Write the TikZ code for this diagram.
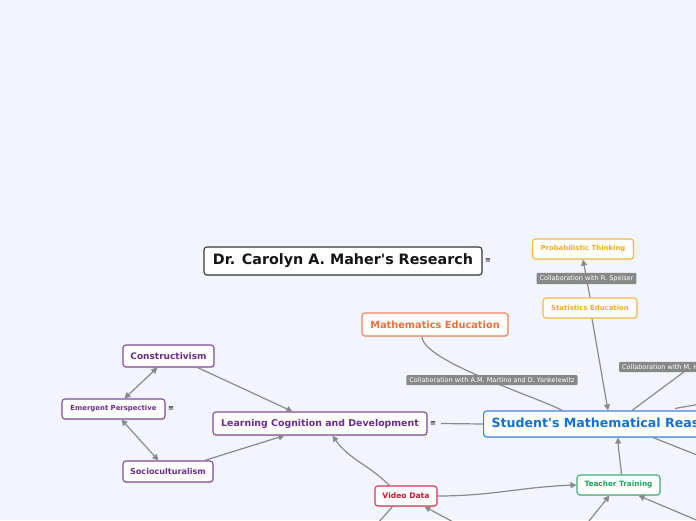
\documentclass[tikz,border=0pt]{standalone}
\usepackage{fontspec}
\setmainfont{DejaVu Sans}
\usetikzlibrary{arrows.meta,positioning,shadows}

\definecolor{paper}{RGB}{242,245,254}
\definecolor{linkgray}{RGB}{138,138,142}
\definecolor{lblgray}{RGB}{136,136,136}
\definecolor{titleink}{RGB}{20,20,20}
\definecolor{statink}{RGB}{246,170,30}
\definecolor{mathink}{RGB}{234,112,60}
\definecolor{learnink}{RGB}{106,44,140}
\definecolor{studink}{RGB}{18,112,214}
\definecolor{videoink}{RGB}{200,20,50}
\definecolor{teachink}{RGB}{30,160,90}

\begin{document}
\begin{tikzpicture}[x=1pt, y=-1pt,
  topic/.style={draw=#1!85!white, text=#1, fill=white, rounded corners=3pt, line width=1.1pt, inner sep=0pt,
    drop shadow={opacity=.18, shadow xshift=.6pt, shadow yshift=-1.2pt}},
  sz/.style={font=\fontsize{#1}{#1}\selectfont\bfseries},
  lbl/.style={fill=lblgray, text=white, rounded corners=1pt, inner xsep=3pt, inner ysep=2.5pt, font=\fontsize{6.5}{6.5}\selectfont},
  menu/.style={font=\fontsize{7}{7}\selectfont, inner sep=0pt},
  link/.style={draw=linkgray, line width=1.2pt},
  arrow/.style={link, -{Triangle[length=6pt, width=6pt]}},
  both/.style={link, {Triangle[length=6pt, width=6pt]}-{Triangle[length=6pt, width=6pt]}}
]
\useasboundingbox (0,0) rectangle (696,520);
\fill[paper] (0,0) rectangle (696,520);
\clip (0,0) rectangle (696,520);

% central topics
\node[topic=titleink, sz=14.3, minimum width=278, minimum height=28] (title) at (343,261) {Dr. Carolyn A. Maher\textquotesingle s Research};
\node[menu] (title-menu) at (488,261) {≡};
\node[topic=studink, sz=12.6, minimum height=26, inner xsep=8pt, anchor=west] (stud) at (483,424) {Student\textquotesingle s Mathematical Reasoning};

% statistics branch
\node[topic=statink, sz=6.9, minimum width=101, minimum height=20] (prob) at (583,249) {Probabilistic Thinking};
\node[topic=statink, sz=6.9, minimum width=94, minimum height=20] (stat) at (590,308) {Statistics Education};
\node[topic=mathink, sz=9.8, minimum width=146, minimum height=23] (mathed) at (435,324.5) {Mathematics Education};

% learning branch
\node[topic=learnink, sz=9.4, minimum width=214, minimum height=23] (learn) at (320,423.5) {Learning Cognition and Development};
\node[menu] (learn-menu) at (433,423.5) {≡};
\node[topic=learnink, sz=9, minimum width=91, minimum height=22] (constr) at (168.5,356) {Constructivism};
\node[topic=learnink, sz=6.9, minimum width=103, minimum height=20] (emerg) at (113.5,409) {Emergent Perspective};
\node[menu] (emerg-menu) at (171,409) {≡};
\node[topic=learnink, sz=8.1, minimum width=90, minimum height=21] (socio) at (168,471.5) {Socioculturalism};

% data and training
\node[topic=videoink, sz=7.6, minimum width=62, minimum height=20] (video) at (406,496) {Video Data};
\node[topic=teachink, sz=7.3, minimum width=83, minimum height=20] (teach) at (618.5,485) {Teacher Training};

% ends outside the page
\coordinate (off-mh) at (735,334);
\coordinate (off-right) at (735,398);
\coordinate (off-low) at (735,470);
\coordinate (off-va) at (371,531);
\coordinate (off-vb) at (470,531);
\coordinate (off-ta) at (581,531);
\coordinate (off-tb) at (720,530);

% connectors
\draw[arrow] (stat.north) -- node[lbl] {Collaboration with R. Speiser} (prob.south);
\draw[arrow] ([xshift=2]stat.south) -- ([xshift=125]stud.north west);
\draw[link] ([xshift=-13]mathed.south) to[out=-90, in=150, looseness=.4] node[lbl, pos=.5, xshift=8, yshift=-2] {Collaboration with A.M. Martino and D. Yankelewitz} ([xshift=79]stud.north west);
\draw[link] ([xshift=149]stud.north west) -- (off-mh);
\draw[link] ([xshift=192,yshift=2]stud.north west) -- (off-right);
\draw[link] ([xshift=170]stud.south west) -- (off-low);
\draw[link] ([xshift=5]learn-menu.east) -- (stud.west);

\draw[arrow] ([xshift=-17]constr.south east) -- ([xshift=80]learn.north west);
\draw[arrow] ([xshift=-9]socio.north east) -- ([xshift=72]learn.south west);
\draw[both] ([xshift=63]emerg.north west) -- ([xshift=35]constr.south west);
\draw[both] ([xshift=60]emerg.south west) -- ([xshift=36]socio.north west);

\draw[arrow] ([xshift=15]video.north west) to[out=135, in=-55] ([xshift=120]learn.south west);
\draw[arrow] (video.east) to[out=0, in=182] (teach.west);
\draw[arrow] ([xshift=3]teach.north) to[out=95, in=-88] ([xshift=135]stud.south west);

\draw[link] ([xshift=18]video.south west) -- (off-va);
\draw[arrow] (off-vb) -- ([xshift=50]video.south west);
\draw[arrow] (off-ta) -- ([xshift=33]teach.south west);
\draw[arrow] (off-tb) -- ([xshift=62]teach.south west);

% label on the line that leaves the page
\node[lbl, anchor=west, minimum width=100, align=left, text width=94] (mh-lbl) at (619,367) {Collaboration with M. H};
\end{tikzpicture}
\end{document}
